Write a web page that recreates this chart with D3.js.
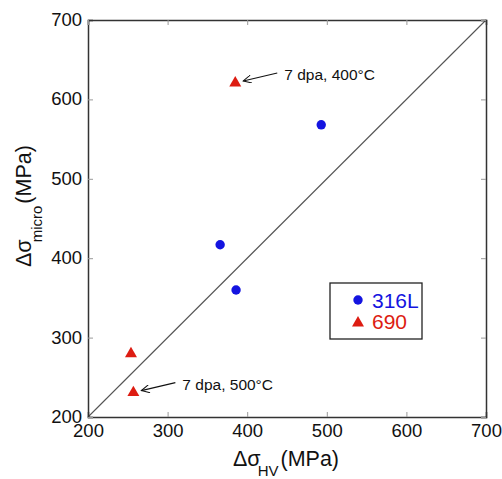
<!DOCTYPE html>
<html><head><meta charset="utf-8">
<script src="https://cdn.jsdelivr.net/npm/d3@7"></script>
<style>body{margin:0;background:#fff}svg{display:block;font-family:"Liberation Sans",Arial,sans-serif}</style>
</head><body><svg id="c" width="502" height="479"></svg>
<script>
const ticks = [200, 300, 400, 500, 600, 700];
const x316L = [493, 366, 386];
const y316L = [568, 417, 360];
const x690 = [385, 254, 257];
const y690 = [622, 281, 232];
const seriesNames = ["316L", "690"];
const seriesColors = ["#1414e0", "#dd1c12"];
const annoText = ["7 dpa, 400°C", "7 dpa, 500°C"];
const annoTarget = [[385, 622], [257, 232]];

const svg = d3.select("#c");
const L = 88, R = 486, T = 20, B = 417;
const x = d3.scaleLinear().domain([200, 700]).range([L, R]);
const y = d3.scaleLinear().domain([200, 700]).range([B, T]);

// diagonal
svg.append("line").attr("x1", x(200)).attr("y1", y(200)).attr("x2", x(700)).attr("y2", y(700))
  .attr("stroke", "#555").attr("stroke-width", 1.1);

// axes with inward ticks
const fmt = d3.format("d");
const gb = svg.append("g").attr("transform", `translate(0,${B})`).call(d3.axisBottom(x).tickValues(ticks).tickSize(-5).tickPadding(7).tickFormat(fmt));
const gl = svg.append("g").attr("transform", `translate(${L},0)`).call(d3.axisLeft(y).tickValues(ticks).tickSize(-5).tickPadding(6).tickFormat(fmt));
const gt = svg.append("g").attr("transform", `translate(0,${T})`).call(d3.axisTop(x).tickValues(ticks).tickSize(-5).tickFormat(""));
const gr = svg.append("g").attr("transform", `translate(${R},0)`).call(d3.axisRight(y).tickValues(ticks).tickSize(-5).tickFormat(""));
[gb, gl, gt, gr].forEach(g => {
  g.select(".domain").attr("stroke", "#333").attr("stroke-width", 1.5);
  g.selectAll(".tick line").attr("stroke", "#999");
  g.selectAll("text").attr("font-size", 18.5).attr("fill", "#111").attr("font-family", "Liberation Sans, Arial, sans-serif");
});
gl.selectAll(".tick text").attr("dy", "0.3em");

// markers
const tri = d3.symbol().type(d3.symbolTriangle).size(62);
svg.append("g").selectAll("circle").data(x316L.map((v, i) => [v, y316L[i]])).join("circle")
  .attr("cx", d => x(d[0])).attr("cy", d => y(d[1])).attr("r", 4.7).attr("fill", seriesColors[0]);
svg.append("g").selectAll("path").data(x690.map((v, i) => [v, y690[i]])).join("path")
  .attr("d", tri).attr("transform", d => `translate(${x(d[0])},${y(d[1]) + 1})`).attr("fill", seriesColors[1]);

// annotations
const defs = svg.append("defs");
defs.append("marker").attr("id", "ah").attr("viewBox", "0 0 10 10").attr("refX", 10).attr("refY", 5)
  .attr("markerWidth", 10).attr("markerHeight", 8).attr("markerUnits", "userSpaceOnUse").attr("orient", "auto")
  .append("path").attr("d", "M0,0 L10,5 L0,10").attr("fill", "none").attr("stroke", "#111").attr("stroke-width", 1.3);
annoTarget.forEach((t, i) => {
  const tx = x(t[0]) + 8, ty = y(t[1]) - 1;
  const sx = tx + 34, sy = ty - 8;
  svg.append("line").attr("x1", sx).attr("y1", sy).attr("x2", tx).attr("y2", ty)
    .attr("stroke", "#111").attr("stroke-width", 1.1).attr("marker-end", "url(#ah)");
  svg.append("text").attr("x", sx + 7).attr("y", sy + 7).attr("font-size", 15.5).attr("fill", "#111").text(annoText[i]);
});

// legend
const lg = svg.append("g").attr("transform", "translate(330,283)");
lg.append("rect").attr("width", 92).attr("height", 56).attr("fill", "#fff").attr("stroke", "#222").attr("stroke-width", 1.3);
lg.append("circle").attr("cx", 28).attr("cy", 17).attr("r", 4.7).attr("fill", seriesColors[0]);
lg.append("path").attr("d", tri).attr("transform", "translate(28,40)").attr("fill", seriesColors[1]);
seriesNames.forEach((n, i) => {
  lg.append("text").attr("x", 42).attr("y", 25 + i * 21).attr("font-size", 21).attr("fill", seriesColors[i]).text(n);
});

// axis labels
const xl = svg.append("text").attr("x", 233).attr("y", 466).attr("font-size", 21.5).attr("fill", "#111");
xl.append("tspan").text("Δσ");
xl.append("tspan").attr("font-size", 15).attr("dx", -3).attr("dy", 10).text("HV");
xl.append("tspan").attr("dx", 2).attr("dy", -10).text("(MPa)");

const yl = svg.append("text").attr("transform", `translate(31,267) rotate(-90)`).attr("font-size", 21.5).attr("fill", "#111");
yl.append("tspan").text("Δσ");
yl.append("tspan").attr("font-size", 15).attr("dx", -3).attr("dy", 11).text("micro");
yl.append("tspan").attr("dx", 2).attr("dy", -11).text("(MPa)");
</script></body></html>
